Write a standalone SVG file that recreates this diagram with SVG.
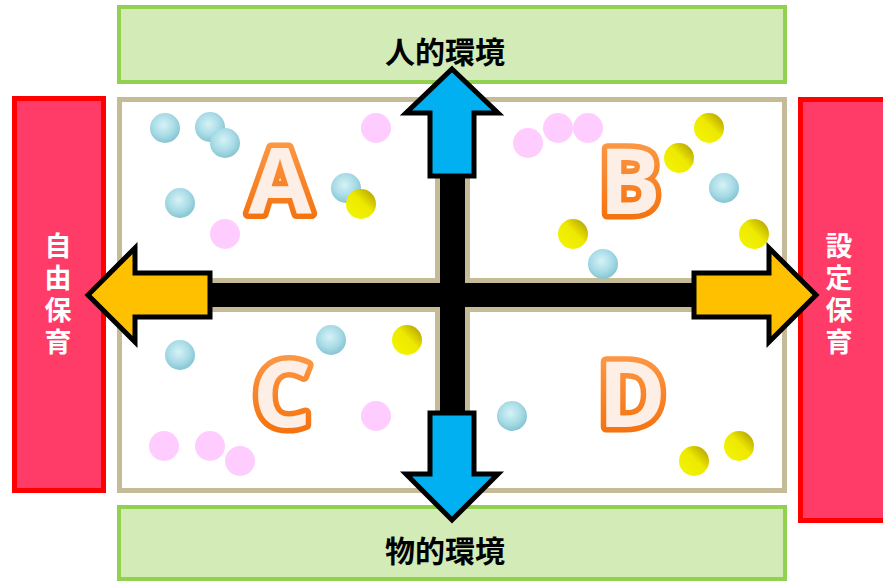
<svg xmlns="http://www.w3.org/2000/svg" width="883" height="582" viewBox="0 0 883 582">
<defs>
<radialGradient id="gBlue" cx="0.45" cy="0.4" r="0.6">
<stop offset="0" stop-color="#D6F2F6"/>
<stop offset="0.6" stop-color="#A9DCE7"/>
<stop offset="1" stop-color="#86C5D2"/>
</radialGradient>
<linearGradient id="gYel" x1="0.2" y1="0.8" x2="0.9" y2="0.1">
<stop offset="0" stop-color="#F2F200"/>
<stop offset="0.5" stop-color="#EDE800"/>
<stop offset="1" stop-color="#B8A600"/>
</linearGradient>
<linearGradient id="gOr" x1="0" y1="0" x2="0" y2="1">
<stop offset="0" stop-color="#FFA457"/>
<stop offset="1" stop-color="#F26800"/>
</linearGradient>
<style>
.quad{fill:#FFFFFF;stroke:#C6BB97;stroke-width:5}
.blue{fill:url(#gBlue)}
.pink{fill:#FFCCFF}
.yel{fill:url(#gYel)}
.red{fill:#FF3B67;stroke:#FF0000;stroke-width:5}
.green{fill:#D3EBB6;stroke:#92D050;stroke-width:4}
.lbl{font-family:"Noto Sans CJK JP","Noto Sans CJK SC",sans-serif;font-weight:700;font-size:30px;fill:#000;text-anchor:middle}
.vl{font-family:"Noto Sans CJK JP","Noto Sans CJK SC",sans-serif;font-weight:700;font-size:27px;fill:#FFFFFF;text-anchor:middle}
.big{font-family:"Open Sans","Noto Sans",sans-serif;font-weight:700;font-size:92px;fill:#FDEFE6;stroke:url(#gOr);stroke-width:11;stroke-linejoin:round;paint-order:stroke;text-anchor:middle}
.arrY{fill:#FFC000;stroke:#000;stroke-width:5;stroke-linejoin:miter}
.arrB{fill:#00B0F0;stroke:#000;stroke-width:5;stroke-linejoin:miter}
</style>
</defs>

<g id="top-box">
<rect class="green" x="119" y="7" width="666" height="75"/>
<text class="lbl" x="445" y="63">人的環境</text>
</g>
<g id="bottom-box">
<rect class="green" x="119" y="507" width="666" height="72"/>
<text class="lbl" x="445" y="562">物的環境</text>
</g>
<g id="left-box">
<rect class="red" x="14.5" y="98.5" width="89" height="392"/>
<text class="vl" x="58" y="256">自</text>
<text class="vl" x="58" y="288">由</text>
<text class="vl" x="58" y="320">保</text>
<text class="vl" x="58" y="352">育</text>
</g>
<g id="right-box">
<rect class="red" x="800.5" y="99.5" width="90" height="421"/>
<text class="vl" x="839" y="256">設</text>
<text class="vl" x="839" y="288">定</text>
<text class="vl" x="839" y="320">保</text>
<text class="vl" x="839" y="352">育</text>
</g>

<g id="quadrant-A">
<rect class="quad" x="119.5" y="99.5" width="318" height="181"/>
<circle class="blue" cx="165" cy="128" r="15"/>
<circle class="blue" cx="210" cy="127" r="15"/>
<circle class="blue" cx="225" cy="143" r="15"/>
<circle class="blue" cx="180" cy="203" r="15"/>
<circle class="blue" cx="346" cy="188" r="15"/>
<circle class="yel" cx="361" cy="204" r="15"/>
<circle class="pink" cx="376" cy="128" r="15"/>
<circle class="pink" cx="225" cy="234" r="15"/>
<text class="big" x="280" y="214">A</text>
</g>
<g id="quadrant-B">
<rect class="quad" x="467.5" y="99.5" width="317" height="181"/>
<circle class="pink" cx="528" cy="143" r="15"/>
<circle class="pink" cx="558" cy="128" r="15"/>
<circle class="pink" cx="588" cy="128" r="15"/>
<circle class="yel" cx="709" cy="128" r="15"/>
<circle class="yel" cx="679" cy="158" r="15"/>
<circle class="blue" cx="724" cy="188" r="15"/>
<circle class="yel" cx="573" cy="234" r="15"/>
<circle class="yel" cx="754" cy="234" r="15"/>
<circle class="blue" cx="603" cy="264" r="15"/>
<text class="big" x="630" y="214">B</text>
</g>
<g id="quadrant-C">
<rect class="quad" x="119.5" y="309.5" width="318" height="181"/>
<circle class="blue" cx="180" cy="355" r="15"/>
<circle class="blue" cx="331" cy="340" r="15"/>
<circle class="yel" cx="407" cy="340" r="15"/>
<circle class="pink" cx="376" cy="416" r="15"/>
<circle class="pink" cx="164" cy="446" r="15"/>
<circle class="pink" cx="210" cy="446" r="15"/>
<circle class="pink" cx="240" cy="461" r="15"/>
<text class="big" x="282" y="427">C</text>
</g>
<g id="quadrant-D">
<rect class="quad" x="467.5" y="309.5" width="317" height="181"/>
<circle class="blue" cx="512" cy="416" r="15"/>
<circle class="yel" cx="694" cy="461" r="15"/>
<circle class="yel" cx="739" cy="446" r="15"/>
<text class="big" x="632" y="427">D</text>
</g>

<g id="connectors">
<rect x="206" y="283" width="492" height="24" fill="#000"/>
<rect x="440" y="170" width="25" height="248" fill="#000"/>
<path class="arrB" d="M452,69 L498,113 L474,113 L474,176 L430,176 L430,113 L406,113 Z"/>
<path class="arrB" d="M430,413 L474,413 L474,474 L498,474 L452,520 L406,474 L430,474 Z"/>
<path class="arrY" d="M88,295 L135,248 L135,273 L210,273 L210,317 L135,317 L135,342 Z"/>
<path class="arrY" d="M816,295 L769,248 L769,273 L694,273 L694,317 L769,317 L769,342 Z"/>
</g>
</svg>
